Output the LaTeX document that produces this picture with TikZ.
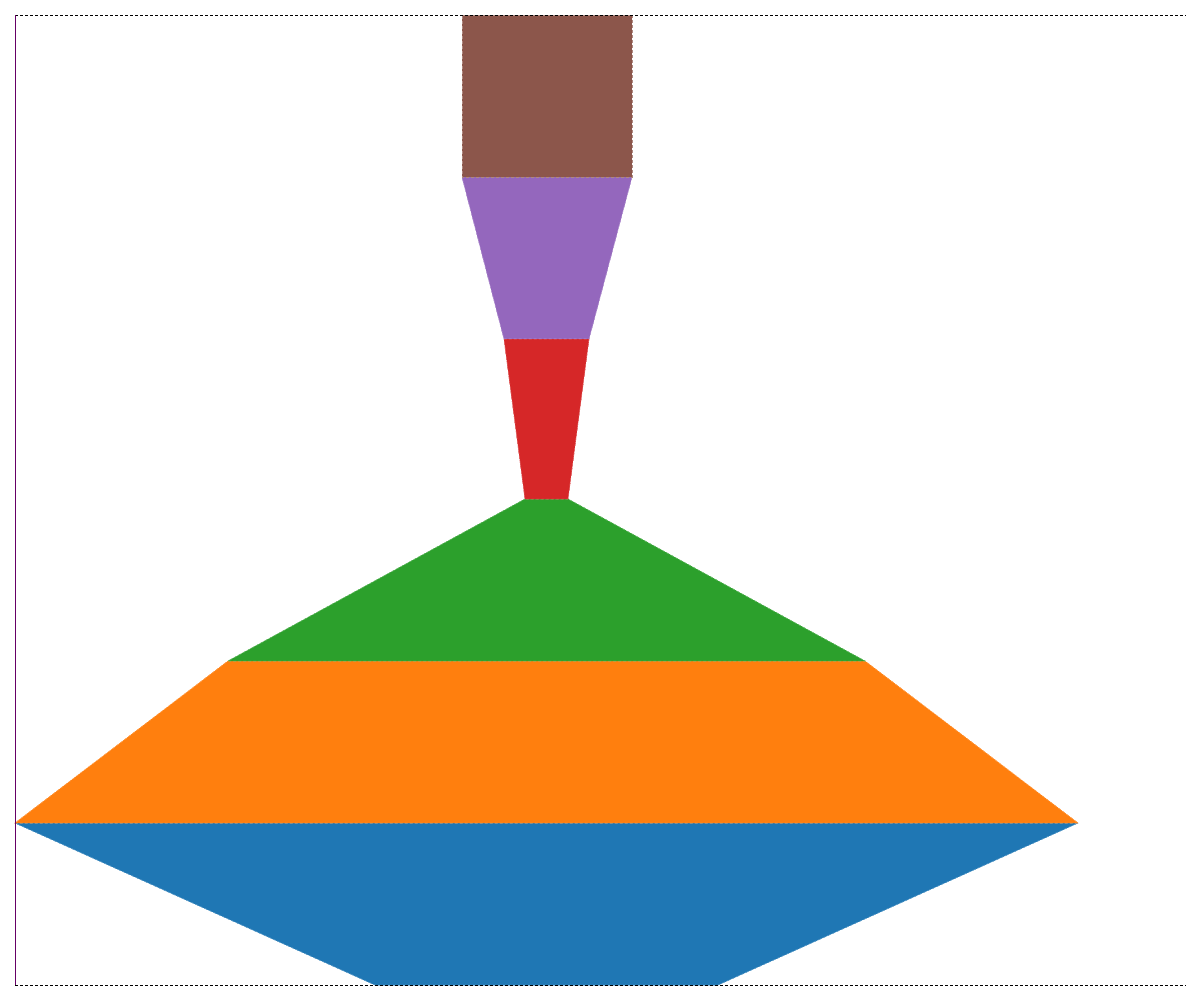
\documentclass[tikz,border=0pt]{standalone}
\definecolor{tabblue}{HTML}{1F77B4}
\definecolor{taborange}{HTML}{FF7F0E}
\definecolor{tabgreen}{HTML}{2CA02C}
\definecolor{tabred}{HTML}{D62728}
\definecolor{tabpurple}{HTML}{9467BD}
\definecolor{tabbrown}{HTML}{8C564B}
\tikzset{
  seg/.style={fill=#1, draw=#1!70!white, densely dashed, line width=0.5pt},
  framedash/.style={draw=black, densely dashed, line width=0.6pt},
  frameleft/.style={draw=violet!80!black, line width=0.8pt}
}
\begin{document}
\begin{tikzpicture}[x=1pt,y=-1pt]
\useasboundingbox (0,0) rectangle (1200,1000);
% layers
\fill[seg=tabblue] (15,823) -- (1078,823) -- (718,985) -- (375,985) -- cycle;
\fill[seg=taborange] (228,661) -- (865,661) -- (1078,823) -- (15,823) -- cycle;
\fill[seg=tabgreen] (525,499) -- (568,499) -- (865,661) -- (228,661) -- cycle;
\fill[seg=tabred] (504,339) -- (589,339) -- (568,499) -- (525,499) -- cycle;
\fill[seg=tabpurple] (462,177) -- (632,177) -- (589,339) -- (504,339) -- cycle;
\fill[seg=tabbrown] (462,15) -- (632,15) -- (632,177) -- (462,177) -- cycle;
\draw[seg=tabblue] (15,823) -- (1078,823) -- (718,985) -- (375,985) -- cycle;
\draw[seg=taborange] (228,661) -- (865,661) -- (1078,823) -- (15,823) -- cycle;
\draw[seg=tabgreen] (525,499) -- (568,499) -- (865,661) -- (228,661) -- cycle;
\draw[seg=tabred] (504,339) -- (589,339) -- (568,499) -- (525,499) -- cycle;
\draw[seg=tabpurple] (462,177) -- (632,177) -- (589,339) -- (504,339) -- cycle;
\draw[seg=tabbrown] (462,15) -- (632,15) -- (632,177) -- (462,177) -- cycle;
% frame
\draw[framedash] (15,15) -- (1186,15);
\draw[framedash] (15,985) -- (1186,985);
\draw[frameleft] (15,15) -- (15,985);
\end{tikzpicture}
\end{document}
